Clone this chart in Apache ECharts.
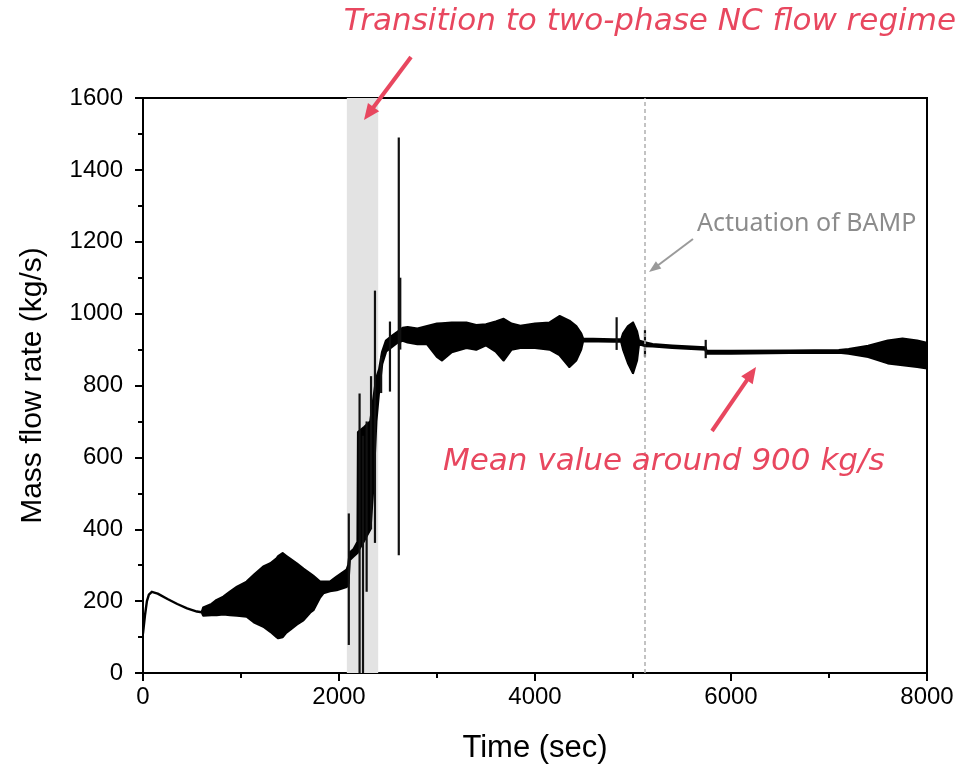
<!DOCTYPE html>
<html>
<head>
<meta charset="utf-8">
<script src="https://cdn.jsdelivr.net/npm/echarts@6/dist/echarts.min.js"></script>
<style>html,body{margin:0;padding:0;background:#fff}#c{width:972px;height:770px}</style>
</head>
<body>
<div id="c"></div>
<script>
// ---- data ----
// envelope of the oscillating mass flow signal: time, upper bound, lower bound
const time = [0,20,40,60,90,150,250,350,450,550,600,615,700,752,820,888,960,1058,1140,1228,1300,1364,1380,1425,1460,1500,1568,1636,1704,1738,1806,1840,1908,1976,2078,2095,2110,2150,2190,2195,2260,2320,2350,2380,2410,2440,2480,2550,2600,2650,2700,2800,2900,3000,3050,3150,3300,3400,3500,3600,3680,3760,3850,4000,4150,4250,4350,4420,4470,4490,4800,4880,4900,4950,5000,5040,5060,5120,5200,5400,5740,5750,6000,6600,7100,7200,7400,7600,7750,7900,8000];
const upper = [110,160,200,218,226,221,206,192,180,171,169,182,192,203,212,226,240,254,275,296,305,319,325,333,326,318,305,290,277,270,254,254,254,268,287,300,335,345,365,670,685,700,760,820,845,893,925,940,950,960,962,958,965,972,973,975,975,968,970,978,985,972,966,972,975,993,980,965,945,930,928,928,945,965,975,950,925,920,915,911,906,896,896,897,898,901,910,925,930,925,918];
const lower = [110,160,200,218,226,221,206,192,180,171,169,160,161,161,163,161,160,157,140,129,115,100,97,100,112,120,135,147,168,175,210,222,228,231,240,250,315,325,335,340,370,400,520,700,790,860,895,910,920,925,920,915,915,880,870,893,905,900,912,895,870,900,905,905,900,885,852,870,900,924,922,922,900,862,835,870,915,910,909,905,900,889,889,891,892,889,880,862,857,852,848];
// isolated spikes: time, min, max
const spikeTime = [2100,2210,2245,2282,2327,2367,2430,2520,2610,2625,4833,5122,5742];
const spikeMin  = [78,0,0,226,400,362,779,783,328,900,899,880,876];
const spikeMax  = [444,778,660,700,826,1064,880,978,1490,1100,990,954,927];
// annotations
const transitionStart = 2080, transitionEnd = 2400;
const bampTime = 5120;
const xTicks = {min:0, max:8000, interval:2000};
const yTicks = {min:0, max:1600, interval:200};

const RED = '#E8475F';
const GRAY = '#9a9a9a';

function arrow(x1,y1,x2,y2,color,w,hl,hw){
  const dx=x2-x1, dy=y2-y1, L=Math.sqrt(dx*dx+dy*dy), ux=dx/L, uy=dy/L;
  const bx=x2-ux*hl, by=y2-uy*hl, px=-uy, py=ux;
  return [
    {type:'line', shape:{x1:x1,y1:y1,x2:x2-ux*hl*0.6,y2:y2-uy*hl*0.6}, style:{stroke:color,lineWidth:w}, z:100},
    {type:'polygon', shape:{points:[[x2,y2],[bx+px*hw/2,by+py*hw/2],[bx-px*hw/2,by-py*hw/2]]}, style:{fill:color}, z:100}
  ];
}

const chart = echarts.init(document.getElementById('c'), null, {renderer:'canvas'});
const bandData = time.map((t,i)=>[t, upper[i], lower[i]]);
const spikeData = spikeTime.map((t,i)=>[t, spikeMin[i], spikeMax[i]]);
const plain = v => String(v);

const option = {
  animation:false,
  backgroundColor:'#fff',
  grid:{left:143, right:45, top:98, bottom:97, show:true, borderColor:'#000', borderWidth:2, backgroundColor:'transparent'},
  xAxis:{
    type:'value', min:xTicks.min, max:xTicks.max, interval:xTicks.interval,
    name:'Time (sec)', nameLocation:'middle', nameGap:60,
    nameTextStyle:{fontFamily:'Liberation Sans', fontSize:31, color:'#000'},
    axisLine:{lineStyle:{color:'#000', width:2}},
    axisTick:{inside:false, length:8, lineStyle:{color:'#000', width:2}},
    minorTick:{show:true, splitNumber:2, length:5, lineStyle:{color:'#000', width:2}},
    axisLabel:{fontFamily:'Liberation Sans', fontSize:24, color:'#000', margin:12, formatter:plain},
    splitLine:{show:false}
  },
  yAxis:{
    type:'value', min:yTicks.min, max:yTicks.max, interval:yTicks.interval,
    name:'Mass flow rate (kg/s)', nameLocation:'middle', nameGap:95,
    nameTextStyle:{fontFamily:'Liberation Sans', fontSize:30, color:'#000'},
    axisLine:{lineStyle:{color:'#000', width:2}},
    axisTick:{inside:false, length:8, lineStyle:{color:'#000', width:2}},
    minorTick:{show:true, splitNumber:2, length:5, lineStyle:{color:'#000', width:2}},
    axisLabel:{fontFamily:'Liberation Sans', fontSize:24, color:'#000', margin:20, formatter:plain},
    splitLine:{show:false}
  },
  series:[
    {
      type:'line', data:[], z:1, silent:true,
      markArea:{silent:true, itemStyle:{color:'#e3e3e3'}, data:[[{xAxis:transitionStart},{xAxis:transitionEnd}]]},
      markLine:{silent:true, symbol:'none', label:{show:false},
        lineStyle:{color:'#b0b0b0', width:1.5, type:[4,3]},
        data:[{xAxis:bampTime}]}
    },
    {
      type:'custom', z:3, data:bandData, clip:true,
      renderItem:function(params, api){
        if(params.dataIndex!==0) return null;
        const pts=[];
        for(let i=0;i<time.length;i++) pts.push(api.coord([time[i], upper[i]]));
        for(let i=time.length-1;i>=0;i--) pts.push(api.coord([time[i], lower[i]]));
        return {type:'polygon', shape:{points:pts}, style:{fill:'#000', stroke:'#000', lineWidth:2.4, lineJoin:'round'}};
      },
      encode:{x:0, y:[1,2]}
    },
    {
      type:'custom', z:4, data:spikeData, clip:true,
      renderItem:function(params, api){
        const a=api.coord([api.value(0), api.value(1)]);
        const b=api.coord([api.value(0), api.value(2)]);
        return {type:'line', shape:{x1:a[0],y1:a[1],x2:b[0],y2:b[1]}, style:{stroke:'#111', lineWidth:2.2}};
      },
      encode:{x:0, y:[1,2]}
    }
  ],
  graphic:[].concat(
    [{type:'text', z:100, style:{text:'Transition to two-phase NC flow regime', x:956, y:37, textAlign:'right', textVerticalAlign:'bottom', fill:RED, font:'italic 31px "DejaVu Sans"'}}],
    arrow(411,57,364,120,RED,4,16,14),
    [{type:'text', z:100, style:{text:'Actuation of BAMP', x:697, y:236, textAlign:'left', textVerticalAlign:'bottom', fill:'#8c8c8c', font:'25px "Noto Sans"'}}],
    arrow(693,239,649,272,GRAY,2,12,9),
    arrow(712,431,756,367,RED,4,16,14),
    [{type:'text', z:100, style:{text:'Mean value around 900 kg/s', x:443, y:477, textAlign:'left', textVerticalAlign:'bottom', fill:RED, font:'italic 31px "DejaVu Sans"'}}]
  )
};
chart.setOption(option);
</script>
</body>
</html>
